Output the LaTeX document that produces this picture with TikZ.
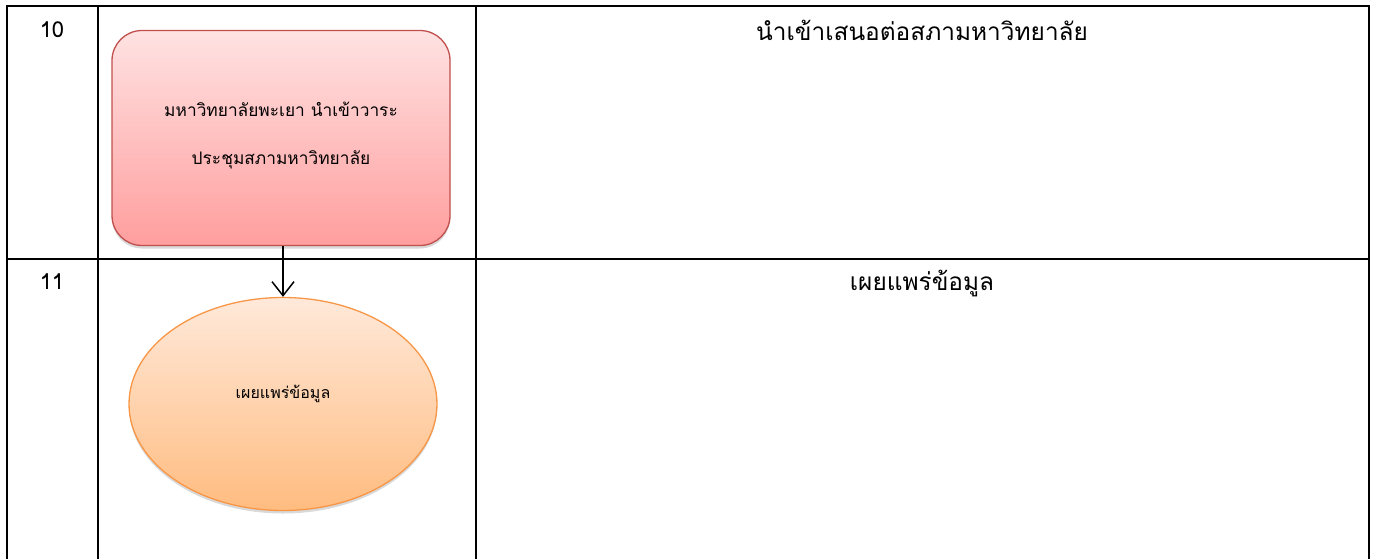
\documentclass[tikz,border=0pt]{standalone}
\usepackage{fontspec}
\newfontfamily\thaifont[Script=Thai]{Loma}
\usetikzlibrary{shapes.geometric,arrows.meta,shadows}
\definecolor{boxline}{RGB}{192,80,77}
\definecolor{boxtop}{RGB}{255,226,226}
\definecolor{boxbot}{RGB}{255,158,158}
\definecolor{ovalline}{RGB}{247,150,70}
\definecolor{ovaltop}{RGB}{255,233,218}
\definecolor{ovalbot}{RGB}{255,188,128}

\begin{document}
\begin{tikzpicture}[x=1pt,y=-1pt,
        gridline/.style={line width=2pt},
        numtext/.style={font=\fontsize{22}{26}\thaifont},
        desctext/.style={font=\fontsize{24.4}{30}\thaifont},
        stepbox/.style={draw=boxline, line width=1.3pt, rounded corners=30pt,
            top color=boxtop, bottom color=boxbot, minimum width=338pt, minimum height=215pt,
            align=center, font=\fontsize{17.3}{48}\thaifont,
            drop shadow={opacity=0.3, shadow xshift=0pt, shadow yshift=-3pt}},
        endoval/.style={ellipse, draw=ovalline, line width=1.3pt,
            top color=ovaltop, bottom color=ovalbot, minimum width=308pt, minimum height=213pt,
            inner sep=0pt, text height=14pt, text depth=26pt, font=\fontsize{16}{20}\thaifont,
            drop shadow={opacity=0.3, shadow xshift=0pt, shadow yshift=-3pt}}]
    \useasboundingbox (0,0) rectangle (1378,558);

    % table
    \draw[gridline] (7,560) -- (7,6) -- (1369,6) -- (1369,560);
    \draw[gridline] (98,6) -- (98,560);
    \draw[gridline] (476,6) -- (476,560);
    \draw[gridline] (7,259) -- (1369,259);

    % row 10
    \draw node[numtext] (num10) at (52,30) {10};
    \draw node[stepbox] (meeting) at (281,138) {มหาวิทยาลัยพะเยา นำเข้าวาระ\\ประชุมสภามหาวิทยาลัย\\[-38pt]};
    \draw node[desctext] (desc10) at (922,30) {นำเข้าเสนอต่อสภามหาวิทยาลัย};

    % row 11
    \draw node[numtext] (num11) at (52,282) {11};
    \draw node[endoval] (publish) at (283,404) {เผยแพร่ข้อมูล};
    \draw node[desctext] (desc11) at (922,283) {เผยแพร่ข้อมูล};

    \draw[-{Straight Barb[length=14pt,width=22pt]}, line width=1.5pt] (meeting.south -| publish.north) -- (publish.north);
\end{tikzpicture}
\end{document}
